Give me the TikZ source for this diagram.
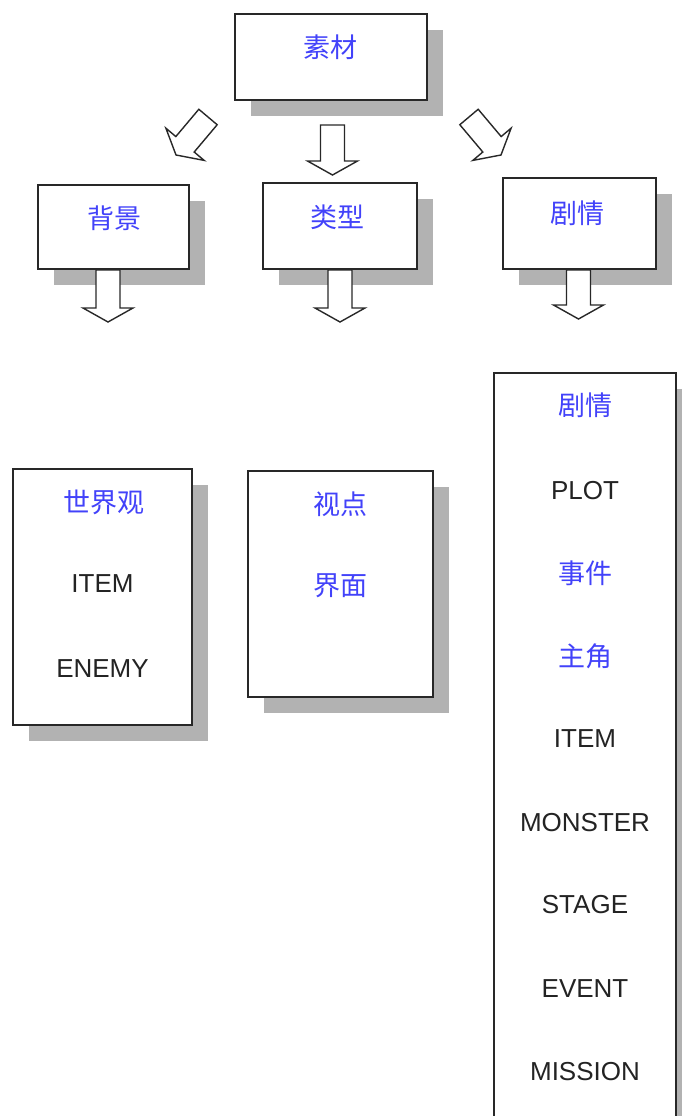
\documentclass[tikz,border=0pt]{standalone}
\usepackage{fontspec}
\setmainfont{Liberation Sans}
\newfontfamily\cjk{Noto Sans CJK SC}
\usetikzlibrary{calc,shadows}
\definecolor{txtblue}{RGB}{66,66,250}
\definecolor{txtdark}{RGB}{35,35,35}
\definecolor{linedark}{RGB}{40,40,40}
\tikzset{
  boxnode/.style={draw=linedark, line width=1.6pt, fill=white, rectangle, inner sep=0pt,
    drop shadow={shadow xshift=16pt, shadow yshift=-16pt, fill=black!30, opacity=1}},
  cjktext/.style={font=\cjk\fontsize{27}{27}\selectfont, text=txtblue, text height=22.4pt, text depth=1.9pt, inner sep=0pt},
  lattext/.style={font=\fontsize{26}{26}\selectfont, text=txtdark, text height=18.6pt, text depth=0pt, inner sep=0pt},
  barrow/.style={draw=linedark, line width=1.4pt, fill=white, line join=miter}
}
\newcommand\blockarrow[2]{%
  \path (#1) coordinate (ba-a) (#2) coordinate (ba-t);
  \path ($(ba-t)!14pt!(ba-a)$) coordinate (ba-h);
  \draw[barrow] ($(ba-a)!12pt!90:(ba-t)$) -- ($(ba-h)!12pt!90:(ba-t)$) -- ($(ba-h)!25pt!90:(ba-t)$) -- (ba-t)
     -- ($(ba-h)!25pt!-90:(ba-t)$) -- ($(ba-h)!12pt!-90:(ba-t)$) -- ($(ba-a)!12pt!-90:(ba-t)$) -- cycle;}
\begin{document}
\begin{tikzpicture}[x=1pt,y=-1pt]
\clip (0,0) rectangle (682,1116);
\fill[white] (0,0) rectangle (682,1116);
% boxes
\node[boxnode, minimum width=192pt, minimum height=86pt] (sucai) at (331,57) {};
\node[boxnode, minimum width=151pt, minimum height=84pt] (beijing) at (113.5,227) {};
\node[boxnode, minimum width=154pt, minimum height=86pt] (leixing) at (340,226) {};
\node[boxnode, minimum width=153pt, minimum height=91pt] (juqing) at (579.5,223.5) {};
\node[boxnode, minimum width=179pt, minimum height=256pt] (shijie) at (102.5,597) {};
\node[boxnode, minimum width=185pt, minimum height=226pt] (shidian) at (340.5,584) {};
\node[boxnode, minimum width=182pt, minimum height=780pt] (detail) at (585,763) {};
% texts
\node[cjktext] (t-sucai) at (330.5,47.5) {素材};
\node[cjktext] (t-beijing) at (114.5,218.5) {背景};
\node[cjktext] (t-leixing) at (337.5,217.5) {类型};
\node[cjktext] (t-juqing) at (577.5,213.5) {剧情};
\node[cjktext] (t-shijieguan) at (103.5,502.5) {世界观};
\node[lattext] (t-item1) at (102.5,583.5) {ITEM};
\node[lattext] (t-enemy) at (102.5,668) {ENEMY};
\node[cjktext] (t-shidian) at (340,504) {视点};
\node[cjktext] (t-jiemian) at (340,585.5) {界面};
\node[cjktext] (t-juqing2) at (585,405.5) {剧情};
\node[lattext] (t-plot) at (585,490) {PLOT};
\node[cjktext] (t-shijian) at (585,573) {事件};
\node[cjktext] (t-zhujiao) at (585,656) {主角};
\node[lattext] (t-item2) at (585,738) {ITEM};
\node[lattext] (t-monster) at (585,822) {MONSTER};
\node[lattext] (t-stage) at (585,904) {STAGE};
\node[lattext] (t-event) at (585,988) {EVENT};
\node[lattext] (t-mission) at (585,1071) {MISSION};
% arrow anchor coordinates
\coordinate (a1s) at (208,117);   \coordinate (a1t) at (176,155);
\coordinate (a2s) at (332.5,125); \coordinate (a2t) at (332.5,175);
\coordinate (a3s) at (469,117);   \coordinate (a3t) at (501,155);
\coordinate (a4s) at (beijing.south -| 108,0); \coordinate (a4t) at (108,322);
\coordinate (a5s) at (leixing.south); \coordinate (a5t) at (340,322);
\coordinate (a6s) at (juqing.south -| 578.5,0); \coordinate (a6t) at (578.5,319);
\blockarrow{a1s}{a1t}
\blockarrow{a2s}{a2t}
\blockarrow{a3s}{a3t}
\blockarrow{a4s}{a4t}
\blockarrow{a5s}{a5t}
\blockarrow{a6s}{a6t}
\end{tikzpicture}
\end{document}
